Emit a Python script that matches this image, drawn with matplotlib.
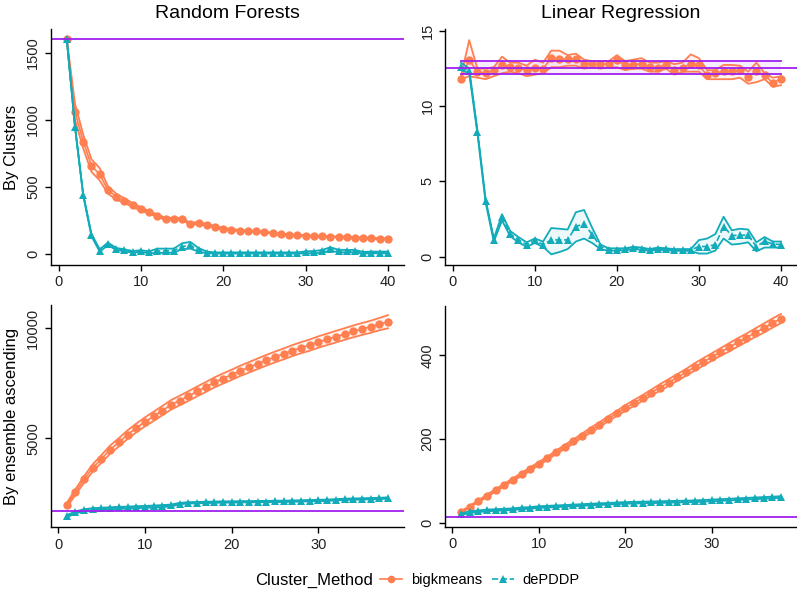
import numpy as np
import matplotlib
matplotlib.use("Agg")
import matplotlib.pyplot as plt
from matplotlib.lines import Line2D

plt.rcParams['font.family'] = ['Liberation Sans', 'DejaVu Sans']

# Data ----------------------------------------------------------------------
x40 = np.arange(1, 41)
x38 = np.arange(1, 39)

# Random Forests, by clusters
rf_clu_big = [1600, 1060, 837, 658, 593, 477, 427, 397, 365, 335, 310, 285, 261, 263, 261, 223, 233, 216, 204, 189,
              181, 174, 171, 169, 164, 154, 147, 144, 139, 137, 132, 132, 129, 127, 124, 122, 119, 117, 114, 114]
rf_clu_big_hi = [1600, 1120, 890, 705, 640, 505, 450, 415, 380, 348, 320, 295, 270, 270, 268, 232, 240, 222, 210, 195,
                 186, 179, 175, 173, 168, 158, 151, 148, 143, 141, 136, 136, 133, 130, 128, 126, 123, 121, 118, 118]
rf_clu_big_lo = [1600, 1000, 785, 612, 548, 450, 405, 380, 350, 322, 300, 276, 253, 256, 254, 215, 226, 210, 198, 183,
                 176, 169, 167, 165, 160, 150, 143, 140, 135, 133, 128, 128, 125, 124, 120, 118, 115, 113, 110, 110]
rf_clu_dep = [1600, 948, 440, 141, 25, 75, 38, 28, 15, 20, 12, 22, 22, 25, 55, 65, 30, 10, 7, 7,
              7, 7, 7, 7, 7, 7, 7, 7, 7, 12, 12, 20, 38, 20, 22, 20, 8, 10, 10, 10]
rf_clu_dep_hi = [1600, 950, 445, 150, 35, 85, 45, 35, 22, 28, 20, 40, 40, 40, 80, 90, 45, 18, 12, 12,
                 12, 12, 12, 12, 12, 12, 12, 12, 12, 20, 22, 30, 50, 32, 30, 30, 15, 18, 18, 18]
rf_clu_dep_lo = [1600, 945, 435, 132, 18, 65, 30, 20, 10, 14, 6, 8, 8, 10, 35, 40, 18, 5, 3, 3,
                 3, 3, 3, 3, 3, 3, 3, 3, 3, 5, 5, 10, 25, 12, 12, 12, 3, 5, 5, 5]
rf_clu_base = 1600

# Linear Regression, by clusters
lr_clu_big = [11.83, 13.1, 12.27, 12.23, 12.38, 12.76, 12.6, 12.54, 12.38, 12.56, 12.5, 13.2, 13.16, 13.12, 13.16,
              12.83, 12.83, 12.78, 12.83, 13.05, 12.76, 12.76, 12.83, 12.6, 12.56, 12.76, 12.43, 12.56, 12.83, 12.72,
              12.05, 12.2, 12.32, 12.32, 12.38, 11.94, 12.32, 12.05, 11.56, 11.83]
lr_clu_big_hi = [12.0, 14.4, 12.5, 12.5, 12.6, 13.3, 12.9, 12.9, 12.7, 13.1, 12.9, 13.7, 13.7, 13.4, 13.5,
                 13.1, 13.0, 13.0, 13.0, 13.4, 13.0, 13.1, 13.2, 12.9, 12.9, 13.0, 12.8, 12.9, 13.45, 13.2,
                 12.4, 12.4, 12.75, 12.75, 12.7, 12.3, 12.9, 12.2, 11.9, 12.0]
lr_clu_big_lo = [11.8, 12.0, 11.9, 11.8, 12.0, 12.2, 12.3, 12.2, 12.0, 12.1, 12.2, 12.6, 12.6, 12.7, 12.7,
                 12.5, 12.6, 12.5, 12.6, 12.6, 12.4, 12.5, 12.5, 12.3, 12.3, 12.5, 12.1, 12.3, 12.3, 12.3,
                 11.8, 11.8, 11.8, 11.8, 11.9, 11.5, 11.6, 11.8, 11.3, 11.4]
lr_clu_dep = [12.6, 12.34, 8.32, 3.73, 1.11, 2.62, 1.51, 1.11, 0.8, 1.07, 0.8, 1.11, 1.11, 1.11, 2.0,
              2.17, 1.46, 0.67, 0.47, 0.47, 0.49, 0.58, 0.53, 0.44, 0.53, 0.49, 0.44, 0.44, 0.44, 0.67,
              0.67, 0.8, 2.0, 1.4, 1.42, 1.42, 0.67, 1.02, 0.84, 0.8]
lr_clu_dep_hi = [12.9, 12.5, 8.4, 3.8, 1.2, 2.8, 1.7, 1.3, 0.95, 1.2, 1.0, 1.9, 1.85, 1.8, 2.95,
                 3.1, 1.9, 0.8, 0.55, 0.55, 0.55, 0.65, 0.6, 0.5, 0.6, 0.55, 0.5, 0.5, 0.5, 1.1,
                 1.2, 1.5, 2.65, 1.75, 1.85, 1.8, 0.95, 1.3, 1.0, 1.0]
lr_clu_dep_lo = [12.4, 12.2, 8.2, 3.6, 1.0, 2.4, 1.35, 0.95, 0.65, 0.9, 0.65, 0.15, 0.3, 0.5, 1.0,
                 1.2, 0.9, 0.5, 0.38, 0.4, 0.42, 0.5, 0.45, 0.38, 0.45, 0.42, 0.38, 0.38, 0.38, 0.2,
                 0.2, 0.4, 1.2, 0.8, 0.85, 0.95, 0.35, 0.6, 0.6, 0.6]
lr_clu_base = 12.54
lr_clu_base_hi = 12.98
lr_clu_base_lo = 12.12

# Random Forests, by ensemble ascending
rf_ens_big = [1970, 2560, 3140, 3660, 4070, 4490, 4820, 5170, 5470, 5750, 6000, 6260, 6520, 6720, 6920, 7130, 7330,
              7540, 7720, 7890, 8070, 8230, 8390, 8550, 8700, 8840, 8990, 9120, 9240, 9380, 9500, 9620, 9740, 9860,
              9970, 10070, 10190, 10300]
rf_ens_big_hi = [2070, 2690, 3290, 3825, 4245, 4675, 5010, 5365, 5670, 5955, 6210, 6472, 6735, 6938, 7140, 7352,
                 7555, 7768, 7950, 8122, 8305, 8468, 8630, 8793, 8945, 9088, 9240, 9373, 9495, 9638, 9760, 9883,
                 10005, 10128, 10240, 10345, 10470, 10600]
rf_ens_big_lo = [1870, 2430, 2990, 3495, 3895, 4305, 4630, 4975, 5270, 5545, 5790, 6048, 6305, 6502, 6700, 6908,
                 7105, 7312, 7490, 7658, 7835, 7992, 8150, 8307, 8455, 8592, 8740, 8867, 8985, 9122, 9240, 9357,
                 9475, 9592, 9700, 9795, 9910, 10000]
rf_ens_dep = [1480, 1650, 1750, 1800, 1820, 1840, 1860, 1870, 1890, 1900, 1920, 1940, 1960, 2040, 2070, 2080, 2090,
              2100, 2110, 2110, 2120, 2120, 2130, 2130, 2140, 2140, 2150, 2160, 2170, 2180, 2190, 2210, 2230, 2240,
              2250, 2260, 2270, 2290]
rf_ens_dep_hi = [1510, 1680, 1780, 1830, 1850, 1870, 1890, 1900, 1920, 1930, 1950, 1970, 1990, 2070, 2100, 2110,
                 2120, 2130, 2140, 2140, 2150, 2150, 2160, 2160, 2170, 2170, 2180, 2190, 2200, 2210, 2220, 2240,
                 2260, 2270, 2280, 2290, 2300, 2320]
rf_ens_dep_lo = [1420, 1590, 1690, 1740, 1760, 1780, 1800, 1810, 1830, 1840, 1860, 1880, 1900, 2010, 2040, 2050,
                 2060, 2070, 2080, 2080, 2090, 2090, 2100, 2100, 2110, 2110, 2120, 2130, 2140, 2150, 2160, 2180,
                 2200, 2210, 2220, 2230, 2240, 2260]
rf_ens_base = 1690

# Linear Regression, by ensemble ascending
lr_ens_big = [25, 38, 51, 64, 77, 90, 103, 115, 128, 141, 154, 168, 181, 194, 208, 221, 234, 248, 261, 274,
              286, 298, 311, 323, 335, 347, 359, 372, 384, 396, 408, 419, 431, 442, 454, 465, 477, 488]
lr_ens_big_hi = [27, 40, 53, 67, 80, 93, 106, 119, 132, 145, 158, 172, 186, 199, 213, 227, 240, 254, 267, 281,
                 293, 305, 318, 331, 343, 355, 367, 381, 393, 405, 417, 429, 441, 452, 464, 476, 488, 499]
lr_ens_big_lo = [23, 36, 49, 61, 74, 87, 100, 111, 124, 137, 150, 164, 176, 189, 203, 215, 228, 242, 255, 267,
                 279, 291, 304, 315, 327, 339, 351, 363, 375, 387, 399, 409, 421, 432, 444, 454, 466, 477]
lr_ens_dep = [20, 25, 27, 29, 30, 31, 32, 34, 35, 37, 38, 39, 40, 41, 42, 43, 44, 45, 46, 47,
              47.5, 48, 48.5, 49, 49.5, 50, 50.5, 51, 52, 53, 54, 55, 56, 57, 58, 59, 60, 61]
lr_ens_dep_hi = [22, 27, 29, 31, 32, 33, 34, 36, 37, 39, 40, 41, 42, 43, 44, 45, 46, 47, 48, 49,
                 49.5, 50, 50.5, 51, 51.5, 52, 52.5, 53, 54, 55, 56, 57, 58, 59, 60, 61, 62, 63]
lr_ens_dep_lo = [18, 23, 25, 27, 28, 29, 30, 32, 33, 35, 36, 37, 38, 39, 40, 41, 42, 43, 44, 45,
                 45.5, 46, 46.5, 47, 47.5, 48, 48.5, 49, 50, 51, 52, 53, 54, 55, 56, 57, 58, 59]
lr_ens_base = 12.6

# Style ---------------------------------------------------------------------
C_BIG = '#FF7F50'
C_DEP = '#12ABB9'
C_BASE = '#A020F0'
W, H = 797, 591

fig = plt.figure(figsize=(W / 100, H / 100), dpi=100)


def make_ax(l, r, t, b):
    ax = fig.add_axes([l / W, 1 - b / H, (r - l) / W, (b - t) / H])
    for s in ['top', 'right']:
        ax.spines[s].set_visible(False)
    for s in ['left', 'bottom']:
        ax.spines[s].set_linewidth(1.0)
        ax.spines[s].set_color('black')
    ax.tick_params(length=4, width=1.0, colors='black', labelsize=10.5, labelcolor='#222222')
    ax.tick_params(axis='y', labelrotation=90)
    return ax


def draw_method(ax, x, m, lo, hi, color, marker, ls):
    ax.fill_between(x, lo, hi, color=color, alpha=0.08, lw=0)
    ax.plot(x, hi, color=color, lw=1.3)
    ax.plot(x, lo, color=color, lw=1.3)
    ax.plot(x, m, color=color, lw=1.2, ls=ls, marker=marker, ms=6, mew=0)


def finish(ax, xlim, ylim, xt, yt):
    ax.set_xlim(*xlim)
    ax.set_ylim(*ylim)
    ax.set_xticks(xt)
    ax.set_yticks(yt)
    for lab in ax.get_yticklabels():
        lab.set_va('center')


# Plot ----------------------------------------------------------------------
ax1 = make_ax(50.7, 404, 29.3, 265)
draw_method(ax1, x40, rf_clu_big, rf_clu_big_lo, rf_clu_big_hi, C_BIG, 'o', '-')
draw_method(ax1, x40, rf_clu_dep, rf_clu_dep_lo, rf_clu_dep_hi, C_DEP, '^', '--')
ax1.axhline(rf_clu_base, color=C_BASE, lw=1.3)
finish(ax1, (-0.95, 41.95), (-82, 1674), [0, 10, 20, 30, 40], [0, 500, 1000, 1500])
ax1.set_ylabel('By Clusters', fontsize=12, labelpad=5)
ax1.set_title('Random Forests', fontsize=14, pad=8)

ax2 = make_ax(445, 797, 29.3, 265)
draw_method(ax2, x40, lr_clu_big, lr_clu_big_lo, lr_clu_big_hi, C_BIG, 'o', '-')
draw_method(ax2, x40, lr_clu_dep, lr_clu_dep_lo, lr_clu_dep_hi, C_DEP, '^', '--')
ax2.fill_between([1, 40], [lr_clu_base_lo] * 2, [lr_clu_base_hi] * 2, color=C_BASE, alpha=0.08, lw=0)
ax2.plot([1, 40], [lr_clu_base_hi] * 2, color=C_BASE, lw=1.3)
ax2.plot([1, 40], [lr_clu_base_lo] * 2, color=C_BASE, lw=1.3)
ax2.axhline(lr_clu_base, color=C_BASE, lw=1.3)
finish(ax2, (-0.95, 41.95), (-0.56, 15.12), [0, 10, 20, 30, 40], [0, 5, 10, 15])
ax2.set_title('Linear Regression', fontsize=14, pad=8)

ax3 = make_ax(50.7, 404, 305, 527.3)
draw_method(ax3, x38, rf_ens_big, rf_ens_big_lo, rf_ens_big_hi, C_BIG, 'o', '-')
draw_method(ax3, x38, rf_ens_dep, rf_ens_dep_lo, rf_ens_dep_hi, C_DEP, '^', '--')
ax3.axhline(rf_ens_base, color=C_BASE, lw=1.3)
finish(ax3, (-0.85, 39.85), (960, 11060), [0, 10, 20, 30], [5000, 10000])
ax3.set_ylabel('By ensemble ascending', fontsize=12, labelpad=5)

ax4 = make_ax(445, 797, 306, 527)
draw_method(ax4, x38, lr_ens_big, lr_ens_big_lo, lr_ens_big_hi, C_BIG, 'o', '-')
draw_method(ax4, x38, lr_ens_dep, lr_ens_dep_lo, lr_ens_dep_hi, C_DEP, '^', '--')
ax4.axhline(lr_ens_base, color=C_BASE, lw=1.3)
finish(ax4, (-0.85, 39.85), (-10.6, 518), [0, 10, 20, 30], [0, 200, 400])

# Legend --------------------------------------------------------------------
fig.text(255 / W, 1 - 580 / H, 'Cluster_Method', fontsize=12, va='center', ha='left')
handles = [Line2D([], [], color=C_BIG, lw=1.2, marker='o', ms=5.5, mew=0),
           Line2D([], [], color=C_DEP, lw=1.2, ls='--', marker='^', ms=5.5, mew=0)]
fig.legend(handles, ['bigkmeans', 'dePDDP'], loc='center left', bbox_to_anchor=(380 / W, 1 - 580 / H),
           ncol=2, frameon=False, fontsize=10.5, handlelength=1.5, handletextpad=0.6, columnspacing=0.7,
           borderpad=0, borderaxespad=0)

fig.savefig('out.png', dpi=100)
